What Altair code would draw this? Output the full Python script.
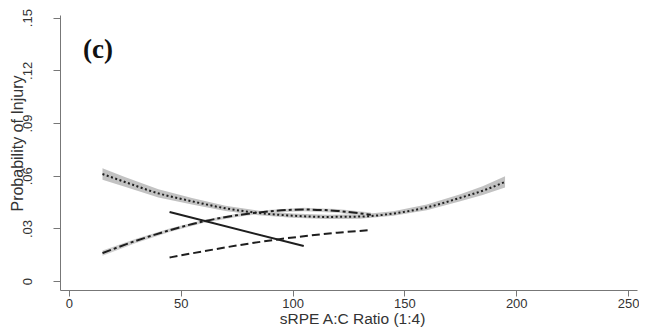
import altair as alt
import pandas as pd

# ---- data ----
dot_x = [15, 25, 40, 55, 70, 85, 100, 115, 130, 145, 160, 175, 185, 195]
dot_y = [0.061, 0.0565, 0.050, 0.0455, 0.0415, 0.0388, 0.0373, 0.0366, 0.0368, 0.0385, 0.042, 0.0475, 0.0515, 0.0565]
dot_lo = [0.0577, 0.0537, 0.0477, 0.0437, 0.0400, 0.0375, 0.0361, 0.0354, 0.0356, 0.0372, 0.0404, 0.0455, 0.0490, 0.0533]
dot_hi = [0.0643, 0.0593, 0.0523, 0.0473, 0.0430, 0.0401, 0.0385, 0.0378, 0.0380, 0.0398, 0.0436, 0.0495, 0.0540, 0.0597]

dd_x = [15, 30, 45, 60, 75, 90, 105, 120, 135]
dd_y = [0.016, 0.023, 0.029, 0.034, 0.0375, 0.0398, 0.0408, 0.0400, 0.0378]
dd_lo = [0.0145, 0.0218, 0.0280, 0.0331, 0.0366, 0.0389, 0.0398, 0.0389, 0.0365]
dd_hi = [0.0175, 0.0242, 0.0300, 0.0349, 0.0384, 0.0407, 0.0418, 0.0411, 0.0391]

solid_x = [45, 105]
solid_y = [0.0394, 0.020]

dash_x = [45, 60, 75, 90, 105, 120, 135]
dash_y = [0.0135, 0.0170, 0.0203, 0.0232, 0.0256, 0.0276, 0.0291]

x_ticks = [0, 50, 100, 150, 200, 250]
y_ticks = [0, 0.03, 0.06, 0.09, 0.12, 0.15]

panel_label = "(c)"
x_title = "sRPE A:C Ratio (1:4)"
y_title = "Probability of Injury"

dot_df = pd.DataFrame({"x": dot_x, "y": dot_y, "lo": dot_lo, "hi": dot_hi})
dd_df = pd.DataFrame({"x": dd_x, "y": dd_y, "lo": dd_lo, "hi": dd_hi})
solid_df = pd.DataFrame({"x": solid_x, "y": solid_y})
dash_df = pd.DataFrame({"x": dash_x, "y": dash_y})
lab_df = pd.DataFrame({"x": [13], "y": [0.127], "t": [panel_label]})

FONT = "Liberation Sans"
LINE = "#1e1e1e"

xs = alt.Scale(domain=[-4, 254], nice=False, zero=False)
ys = alt.Scale(domain=[-0.005, 0.1515], nice=False, zero=False)

x_axis = alt.Axis(
    values=x_ticks, title=x_title, grid=False,
    tickSize=6, labelPadding=1, labelFontSize=13, labelFont=FONT, labelColor="#333",
    titleFont=FONT, titleFontSize=15.5, titleFontWeight="normal", titleColor="#333",
    titleX=292, titleY=21, titleBaseline="top", titleAlign="center",
    domainColor="#777", tickColor="#777", labelFlush=False,
)
y_axis = alt.Axis(
    values=y_ticks, title=y_title, grid=False,
    tickSize=7, labelPadding=26, labelFontSize=13, labelFont=FONT, labelColor="#333",
    labelAngle=270, labelAlign="center", labelBaseline="middle",
    labelExpr="datum.value == 0 ? '0' : substring(format(datum.value, '.2f'), 1)",
    titleFont=FONT, titleFontSize=16, titleFontWeight="normal", titleColor="#333",
    titleAngle=270, titleX=-43, titleY=128, titleAlign="center", titleBaseline="middle",
    domainColor="#777", tickColor="#777", labelFlush=False,
)

X = alt.X("x:Q", scale=xs, axis=x_axis)
Y = alt.Y("y:Q", scale=ys, axis=y_axis)

band_dot = alt.Chart(dot_df).mark_area(color="#c2c2c2", opacity=1).encode(
    x=alt.X("x:Q", scale=xs), y=alt.Y("lo:Q", scale=ys), y2="hi:Q")
band_dd = alt.Chart(dd_df).mark_area(color="#cfcfcf", opacity=1).encode(
    x=alt.X("x:Q", scale=xs), y=alt.Y("lo:Q", scale=ys), y2="hi:Q")

line_dot = alt.Chart(dot_df).mark_line(color=LINE, strokeWidth=2, strokeDash=[2, 2.5], interpolate="monotone").encode(x=X, y=Y)
line_dd = alt.Chart(dd_df).mark_line(color=LINE, strokeWidth=2, strokeDash=[9, 3, 3, 3], interpolate="monotone").encode(x=X, y=Y)
line_solid = alt.Chart(solid_df).mark_line(color=LINE, strokeWidth=2).encode(x=X, y=Y)
line_dash = alt.Chart(dash_df).mark_line(color=LINE, strokeWidth=2, strokeDash=[8, 4], interpolate="monotone").encode(x=X, y=Y)

label = alt.Chart(lab_df).mark_text(
    font="Liberation Serif", fontSize=27, fontWeight="bold", color="#111",
    align="center", baseline="alphabetic").encode(
    x=alt.X("x:Q", scale=xs), y=alt.Y("y:Q", scale=ys), text="t:N")

chart = alt.layer(band_dot, band_dd, line_dot, line_dd, line_solid, line_dash, label).properties(
    width=577, height=275,
    autosize=alt.AutoSizeParams(type="none"),
    padding={"left": 52, "top": 7, "right": 2, "bottom": 40},
    background="white",
).configure_view(stroke=None)

chart.save("out.html", embed_options={"renderer": "svg", "actions": False})
